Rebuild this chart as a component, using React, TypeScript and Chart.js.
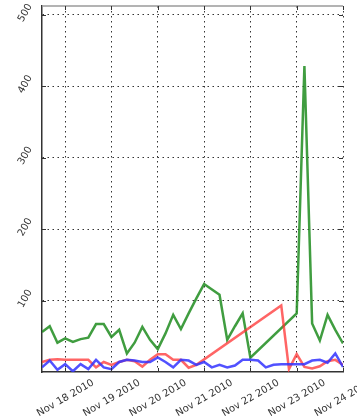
import React, { useEffect, useRef } from 'react';
import { Chart, registerables } from 'chart.js';

Chart.register(...registerables);

// Day ticks on the x axis (day of November 2010) and their labels
const dayTicks = [18, 19, 20, 21, 22, 23, 24];
const dayLabels = ['Nov 18 2010', 'Nov 19 2010', 'Nov 20 2010', 'Nov 21 2010', 'Nov 22 2010', 'Nov 23 2010', 'Nov 24 2010'];
const valueTicks = [100, 200, 300, 400, 500];

// Samples are every 4 hours starting Nov 17 12:00 (slot index)
const startDay = 17.5;
const slotsPerDay = 6;

const greenSlots = [0, 1, 2, 3, 4, 5, 6, 7, 8, 9, 10, 11, 12, 13, 14, 15, 16, 17, 18, 19, 20, 21, 23, 24, 25, 26, 27, 33, 34, 35, 36, 37, 38, 39];
const greenValues = [56, 64, 41, 47, 42, 46, 48, 67, 67, 49, 59, 26, 41, 63, 45, 32, 54, 80, 60, 82, 103, 123, 108, 45, 64, 82, 20, 82, 428, 68, 44, 80, 59, 40];

const redSlots = [0, 1, 2, 3, 4, 5, 6, 7, 8, 9, 10, 11, 12, 13, 14, 15, 16, 17, 18, 19, 20, 31, 32, 33, 34, 35, 36, 37, 38, 39];
const redValues = [14, 17, 18, 17, 17, 17, 17, 6.5, 14, 10, 14, 17, 15, 7.5, 17, 25, 25, 17, 17, 6, 10, 93, 4, 25, 7, 5, 8, 15, 17, 10];

const blueSlots = [0, 1, 2, 3, 4, 5, 6, 7, 8, 9, 10, 11, 12, 13, 14, 15, 16, 17, 18, 19, 20, 21, 22, 23, 24, 25, 26, 27, 28, 29, 30, 31, 32, 33, 34, 35, 36, 37, 38, 39];
const blueValues = [6.5, 16, 3, 11, 1, 11, 4, 17, 6.5, 4, 14, 17, 16, 14, 14, 20.5, 14, 6.5, 17, 16, 10, 14, 6.5, 10, 6.5, 9, 17, 17, 16, 6.5, 10, 11, 11, 11, 11, 16, 17, 13, 26, 7];

const toPoints = (slots: number[], values: number[]) =>
  slots.map((s, i) => ({ x: startDay + s / slotsPerDay, y: values[i] }));

// Top frame line and inward tick marks (matplotlib style), placed from the scales
const frameAndTicks = {
  id: 'frameAndTicks',
  afterDraw(chart: any) {
    const { ctx, chartArea, scales } = chart;
    const { left, right, top, bottom } = chartArea;
    ctx.save();
    ctx.strokeStyle = '#9a9a9a';
    ctx.lineWidth = 1.5;
    ctx.beginPath();
    ctx.moveTo(left, top);
    ctx.lineTo(right, top);
    ctx.stroke();
    ctx.strokeStyle = '#333';
    ctx.lineWidth = 1;
    const len = 4;
    ctx.beginPath();
    scales.x.ticks.forEach((t: any) => {
      const px = Math.round(scales.x.getPixelForValue(t.value)) + 0.5;
      ctx.moveTo(px, bottom);
      ctx.lineTo(px, bottom - len);
      ctx.moveTo(px, top);
      ctx.lineTo(px, top + len);
    });
    scales.y.ticks.forEach((t: any) => {
      const py = Math.round(scales.y.getPixelForValue(t.value)) + 0.5;
      ctx.moveTo(left, py);
      ctx.lineTo(left + len, py);
      ctx.moveTo(right, py);
      ctx.lineTo(right - len, py);
    });
    ctx.stroke();
    ctx.restore();
  },
};

const whiteBg = {
  id: 'whiteBg',
  beforeDraw(chart: any) {
    const { ctx, width, height } = chart;
    ctx.save();
    ctx.fillStyle = '#fff';
    ctx.fillRect(0, 0, width, height);
    ctx.restore();
  },
};

export default function App() {
  const ref = useRef<HTMLCanvasElement | null>(null);

  useEffect(() => {
    if (!ref.current) return;
    const font = { family: 'DejaVu Sans', size: 10 };
    const chart = new Chart(ref.current, {
      type: 'line',
      data: {
        datasets: [
          {
            data: toPoints(blueSlots, blueValues),
            borderColor: 'rgba(50,50,255,0.85)',
            borderWidth: 2.5,
            pointRadius: 0,
            tension: 0,
          },
          {
            data: toPoints(redSlots, redValues),
            borderColor: 'rgba(255,50,50,0.75)',
            borderWidth: 2.5,
            pointRadius: 0,
            tension: 0,
          },
          {
            data: toPoints(greenSlots, greenValues),
            borderColor: 'rgba(30,140,30,0.85)',
            borderWidth: 2.5,
            pointRadius: 0,
            tension: 0,
          },
        ],
      },
      options: {
        responsive: false,
        animation: false,
        layout: { padding: { top: 6, right: 14, left: 0, bottom: 0 } },
        plugins: {
          legend: { display: false },
          tooltip: { enabled: false },
        },
        scales: {
          x: {
            type: 'linear',
            min: startDay,
            max: 24,
            afterBuildTicks: (s: any) => {
              s.ticks = dayTicks.map((v) => ({ value: v }));
            },
            afterFit: (s: any) => {
              s.height = 46;
              s.paddingLeft = 0;
              s.paddingRight = 0;
            },
            ticks: {
              autoSkip: false,
              minRotation: 30,
              maxRotation: 30,
              labelOffset: 28,
              padding: 5,
              color: '#333',
              font,
              callback: (v: any) => dayLabels[dayTicks.indexOf(Number(v))] ?? '',
            },
            grid: { color: 'rgba(0,0,0,0.8)', lineWidth: 1, drawTicks: false },
            border: { display: true, color: '#333', width: 1.5, dash: [1.5, 3.5] },
          },
          y: {
            type: 'linear',
            min: 0,
            max: 512,
            afterBuildTicks: (s: any) => {
              s.ticks = valueTicks.map((v) => ({ value: v }));
            },
            afterFit: (s: any) => {
              s.width = 42;
              s.paddingTop = 0;
              s.paddingBottom = 0;
            },
            ticks: {
              minRotation: 60,
              maxRotation: 60,
              labelOffset: -10,
              padding: 12,
              color: '#333',
              font,
            },
            grid: { color: 'rgba(0,0,0,0.8)', lineWidth: 1, drawTicks: false },
            border: { display: true, color: '#333', width: 1.5, dash: [1.5, 3.5] },
          },
        },
      },
      plugins: [whiteBg, frameAndTicks],
    } as any);
    return () => chart.destroy();
  }, []);

  return (
    <div style={{ position: 'fixed', left: 0, top: 0, width: 357, height: 418, background: '#fff' }}>
      <canvas ref={ref} width={357} height={418} />
    </div>
  );
}
